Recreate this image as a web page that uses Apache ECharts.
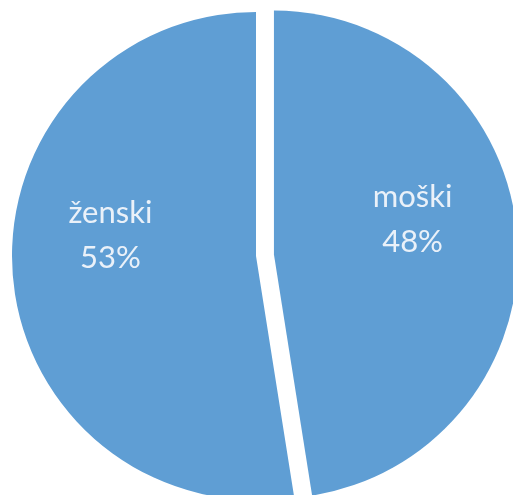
<!DOCTYPE html>
<html>
<head>
<meta charset="utf-8">
<script src="https://cdn.jsdelivr.net/npm/echarts@6/dist/echarts.min.js"></script>
<style>
  html, body { margin: 0; padding: 0; background: #fff; }
  #chart { width: 513px; height: 495px; }
</style>
</head>
<body>
<div id="chart"></div>
<script>
// Data
const categories = ["moški", "ženski"];
const values = [47.5, 52.5];
const percentLabels = ["48%", "53%"];
// Label nudges (Excel puts them off the bisector)
const labelOffsets = [[14, -25], [-21, -30]];

const chart = echarts.init(document.getElementById("chart"));

const option = {
  animation: false,
  series: [
    {
      type: "pie",
      center: [256, 256],
      radius: 244,
      startAngle: 90,
      clockwise: true,
      selectedMode: "single",
      selectedOffset: 18,
      emphasis: { disabled: true },
      itemStyle: { color: "#5F9ED4", borderWidth: 0 },
      label: {
        show: true,
        position: "inside",
        color: "#EAF1F9",
        fontFamily: "Lato",
        fontSize: 31,
        lineHeight: 45,
        formatter: (p) => `${p.name}\n${percentLabels[p.dataIndex]}`,
      },
      labelLine: { show: false },
      data: categories.map((name, i) => ({
        name: name,
        value: values[i],
        selected: i === 0,
        label: { offset: labelOffsets[i] },
        select: { label: { offset: labelOffsets[i] } },
      })),
    },
  ],
};

chart.setOption(option);
</script>
</body>
</html>
